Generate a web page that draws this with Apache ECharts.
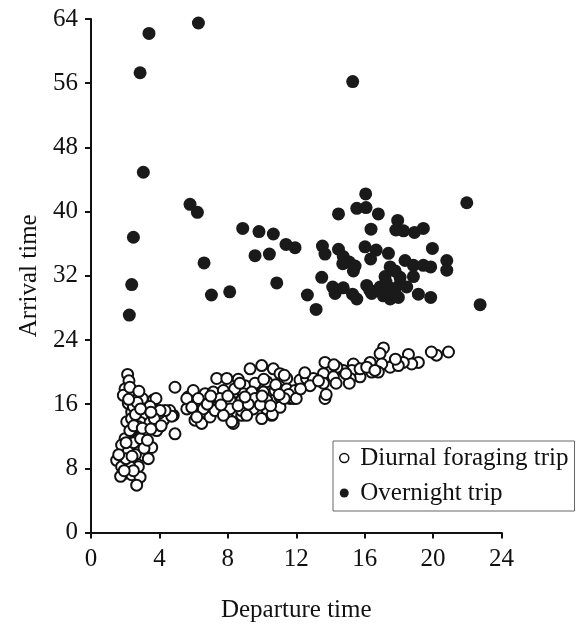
<!DOCTYPE html>
<html><head><meta charset="utf-8">
<script src="https://cdn.jsdelivr.net/npm/echarts@6/dist/echarts.min.js"></script>
<style>html,body{margin:0;padding:0;background:#fff}#c{width:579px;height:625px}</style>
</head><body><div id="c"></div>
<script>
var xTicks = [0,4,8,12,16,20,24];
var yTicks = [0,8,16,24,32,40,48,56,64];
var seriesNames = ['Diurnal foraging trip','Overnight trip'];
var diurnalDep = [
2.14,2.22,1.99,2.38,1.89,2.67,3.64,3.26,2.18,2.38,2.96,3.84,4.43,4.81,4.23,3.55,2.77,2.09,2.38,3.26,3.84,4.91,1.99,2.77,1.79,2.57,3.55,2.18,3.06,1.5,2.28,3.35,1.79,2.77,1.99,2.38,2.87,2.67,4.91,3.0,3.8,3.45,4.0,4.6,3.2,2.9,3.2,3.45,2.5,2.05,2.27,2.37,2.48,2.27,2.8,2.7,2.6,2.74,2.9,2.6,2.27,2.48,1.73,1.94,2.05,1.62,4.72,4.33,4.04,3.7,3.1,4.1,
2.5,3.0,3.5,2.9,3.5,2.2,3.3,2.4,
5.69,5.6,5.98,6.18,6.47,6.08,6.47,7.35,7.94,6.92,6.96,7.44,7.94,8.32,8.52,8.81,9.3,9.98,10.66,10.27,9.59,9.98,10.57,10.66,8.61,9.0,9.59,11.05,11.44,12.22,12.6,6.67,7.15,7.74,8.42,8.91,9.4,10.08,10.76,11.44,11.93,5.6,6.27,7.54,8.13,8.81,9.59,10.27,11.05,11.64,5.89,6.57,7.25,8.13,8.81,9.49,10.27,11.05,11.83,6.18,8.23,7.74,9.1,8.4,8.7,10.1,10.8,10.6,11.3,11.55,12.0,11.3,
6.8,7.6,8.6,9.2,9.9,10.5,7.0,8.0,9.0,10.0,11.0,
17.1,16.9,20.9,20.2,19.9,18.56,19.14,18.75,18.26,17.78,17.49,17.0,16.32,16.41,16.8,15.73,15.34,15.25,14.75,14.37,15.15,13.68,13.59,13.59,13.68,14.17,14.33,13.0,12.81,15.73,16.12,17.97,12.5,12.25,14.2,15.1,17.8,13.75,
14.9,16.6,13.3
];
var diurnalArr = [
19.7,18.9,17.9,17.5,17.1,16.5,16.5,15.6,16.1,15.0,15.0,15.2,15.0,14.6,14.0,13.8,13.8,13.8,12.7,12.7,12.7,12.3,11.7,11.7,10.9,10.7,10.6,10.1,9.6,9.0,9.0,9.2,8.2,8.2,7.4,7.2,6.9,5.9,18.1,16.7,16.7,15.7,14.9,15.2,14.7,13.7,12.7,13.7,11.2,11.2,12.7,14.2,15.7,18.1,17.6,16.2,14.7,13.2,11.7,9.7,8.2,7.7,7.0,7.7,9.2,9.7,14.5,15.2,15.2,14.2,10.5,13.3,
13.3,13.0,12.9,15.4,15.0,16.6,11.5,9.5,
16.9,15.4,17.7,15.9,15.0,14.0,13.6,19.2,19.2,16.5,14.4,15.4,16.5,13.6,15.0,14.6,20.4,20.8,20.4,18.8,17.3,14.2,14.6,16.5,19.1,18.3,18.6,19.8,19.2,19.0,19.2,17.3,17.5,17.7,17.5,17.3,17.5,17.5,17.7,17.9,17.7,16.7,16.7,16.7,16.5,16.5,16.7,16.5,16.9,16.7,15.6,15.4,15.2,15.4,15.2,15.4,15.4,15.6,16.7,14.4,13.8,14.6,14.6,17.9,18.6,19.1,18.4,14.7,19.6,17.2,16.7,16.7,
16.0,15.9,15.8,16.0,15.9,15.8,17.0,17.0,16.9,17.0,17.2,
23.0,22.3,22.5,22.1,22.5,22.2,21.2,21.0,21.2,21.4,20.6,21.0,21.2,20.0,20.0,19.4,21.0,20.2,20.2,20.6,19.2,21.2,19.8,18.6,16.7,19.4,18.6,19.2,18.3,20.4,20.6,20.8,19.9,17.9,20.9,18.6,21.6,17.2,
19.8,20.2,18.9
];
var overnightDep = [3.39,6.28,2.87,15.3,3.06,5.79,6.22,2.48,8.87,9.82,10.66,11.40,11.93,9.59,10.43,6.61,2.38,2.24,7.04,8.11,10.86,12.65,13.16,13.53,13.68,13.49,14.13,14.47,14.47,16.06,15.54,16.08,16.8,21.97,16.37,17.93,17.82,18.27,18.91,19.43,14.75,15.1,15.44,14.72,15.34,16.02,16.67,16.35,17.39,19.96,20.8,20.8,18.36,18.85,19.43,19.86,17.49,17.19,17.78,18.07,18.85,14.27,14.75,15.29,15.54,16.12,16.41,16.9,17.09,17.49,17.78,18.07,18.46,17.97,19.14,19.86,22.75,17.25,16.3,17.6,17.35];
var overnightArr = [62.2,63.5,57.3,56.2,44.9,40.9,39.9,36.8,37.9,37.5,37.2,35.9,35.5,34.5,34.7,33.6,30.9,27.1,29.6,30.0,31.1,29.6,27.8,35.7,34.7,31.8,30.6,39.7,35.3,42.2,40.4,40.5,39.7,41.1,37.8,38.9,37.7,37.6,37.4,37.9,34.4,33.7,33.2,33.5,32.6,35.6,35.2,34.1,34.8,35.4,33.9,32.7,33.9,33.3,33.3,33.1,33.1,31.9,32.6,31.8,31.9,29.8,30.5,29.7,29.1,30.8,29.8,30.6,29.5,29.1,29.9,31.0,30.6,29.3,29.7,29.3,28.4,31.2,30.2,30.4,30.0];

function pairs(xs, ys){ var out=[]; for (var i=0;i<xs.length;i++) out.push([xs[i], ys[i]]); return out; }
var FONT = '"Liberation Serif","Times New Roman",serif';
var INK = '#111';
var chart = echarts.init(document.getElementById('c'));
chart.setOption({
  animation:false,
  backgroundColor:'#fff',
  grid:{left:91, right:77.5, top:19, bottom:92.5, outerBoundsMode:'none', containLabel:false},
  xAxis:{type:'value', min:xTicks[0], max:xTicks[xTicks.length-1], interval:4,
    name:'Departure time', nameLocation:'middle', nameGap:65,
    nameTextStyle:{fontFamily:FONT, fontSize:25, color:INK},
    axisLine:{lineStyle:{color:INK, width:2}},
    axisTick:{length:6, lineStyle:{color:INK, width:2}},
    axisLabel:{fontFamily:FONT, fontSize:25, color:INK, margin:14},
    splitLine:{show:false}},
  yAxis:{type:'value', min:yTicks[0], max:yTicks[yTicks.length-1], interval:8,
    name:'Arrival time', nameLocation:'middle', nameGap:48,
    nameTextStyle:{fontFamily:FONT, fontSize:25, color:INK},
    axisLine:{lineStyle:{color:INK, width:2}},
    axisTick:{length:6, lineStyle:{color:INK, width:2}},
    axisLabel:{fontFamily:FONT, fontSize:25, color:INK, margin:13},
    splitLine:{show:false}},
  legend:{orient:'vertical', left:333, top:441, padding:[4,6,5,6], itemGap:9,
    itemWidth:12, itemHeight:9, borderColor:'#666', borderWidth:1, backgroundColor:'#fff',
    textStyle:{fontFamily:FONT, fontSize:25, color:INK, lineHeight:26, padding:[0,0,0,5]},
    data:[{name:seriesNames[0], icon:'circle', itemStyle:{color:'#fff', borderColor:'#111', borderWidth:1.5}},
          {name:seriesNames[1], icon:'circle', itemStyle:{color:'#1a1a1a', borderWidth:0}}]},
  series:[
    {name:seriesNames[0], type:'scatter', symbol:'circle', symbolSize:11,
     itemStyle:{color:'#fff', borderColor:'#111', borderWidth:2, opacity:1},
     data:pairs(diurnalDep, diurnalArr), z:3},
    {name:seriesNames[1], type:'scatter', symbol:'circle', symbolSize:13,
     itemStyle:{color:'#1a1a1a', opacity:1},
     data:pairs(overnightDep, overnightArr), z:2}
  ]
});
</script></body></html>
